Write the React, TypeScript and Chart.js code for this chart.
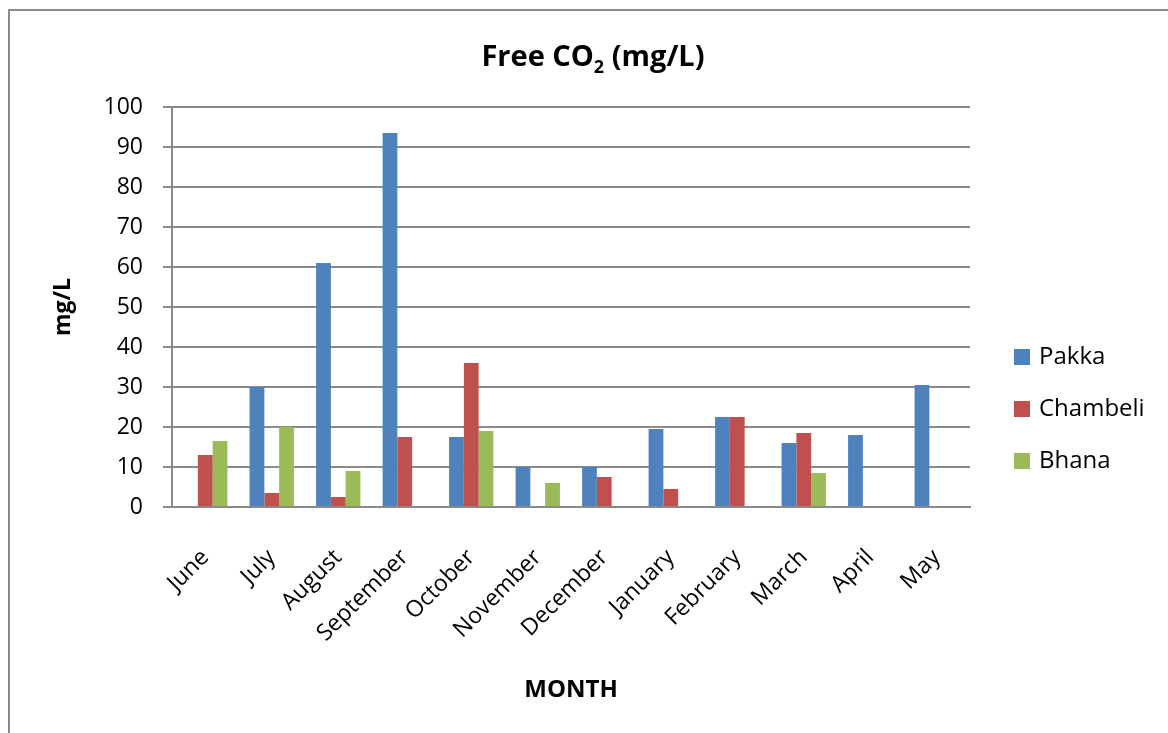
import React, { useEffect, useRef } from "react";
import { Chart, registerables } from "chart.js";

Chart.register(...registerables);

const months = ["June", "July", "August", "September", "October", "November", "December", "January", "February", "March", "April", "May"];
const pakka = [null, 30, 61, 93.5, 17.5, 10, 10, 19.5, 22.5, 16, 18, 30.5];
const chambeli = [13, 3.5, 2.5, 17.5, 36, null, 7.5, 4.5, 22.5, 18.5, null, null];
const bhana = [16.5, 20, 9, null, 19, 6, null, null, null, 8.5, null, null];
const seriesNames = ["Pakka", "Chambeli", "Bhana"];
const seriesColors = ["#4F81BD", "#C0504D", "#9BBB59"];
const yTicks = [0, 10, 20, 30, 40, 50, 60, 70, 80, 90, 100];

const FONT = "'Open Sans', 'Noto Sans', sans-serif";

const decorPlugin = {
  id: "decor",
  afterDraw(chart: any) {
    const ctx = chart.ctx;
    ctx.save();
    // outer border
    ctx.strokeStyle = "#8a8a8a";
    ctx.lineWidth = 2;
    ctx.strokeRect(9, 10, 1200, 800);

    // title with subscript
    ctx.fillStyle = "#000";
    ctx.textBaseline = "alphabetic";
    const big = `bold 29px ${FONT}`;
    const small = `bold 18px ${FONT}`;
    ctx.font = big;
    const w1 = ctx.measureText("Free CO").width;
    const w3 = ctx.measureText(" (mg/L)").width;
    ctx.font = small;
    const w2 = ctx.measureText("2").width;
    const total = w1 + w2 + w3;
    let x = 593 - total / 2;
    const by = 66;
    ctx.font = big;
    ctx.textAlign = "left";
    ctx.fillText("Free CO", x, by);
    x += w1;
    ctx.font = small;
    ctx.fillText("2", x, by + 7);
    x += w2;
    ctx.font = big;
    ctx.fillText(" (mg/L)", x, by);

    // axis titles
    ctx.font = `bold 24px ${FONT}`;
    ctx.textAlign = "center";
    ctx.textBaseline = "middle";
    ctx.fillText("MONTH", 571, 690);
    ctx.save();
    ctx.translate(63, 307);
    ctx.rotate(-Math.PI / 2);
    ctx.font = `bold 23px ${FONT}`;
    ctx.fillText("mg/L", 0, 0);
    ctx.restore();

    // legend
    ctx.font = `24px ${FONT}`;
    ctx.textAlign = "left";
    ctx.textBaseline = "middle";
    chart.data.datasets.forEach((ds: any, i: number) => {
      const cy = 357 + i * 52;
      ctx.fillStyle = ds.backgroundColor;
      ctx.fillRect(1014, cy - 8, 16, 16);
      ctx.fillStyle = "#000";
      ctx.fillText(ds.label, 1039, cy);
    });
    ctx.restore();
  },
};

export default function App() {
  const ref = useRef<HTMLCanvasElement>(null);
  useEffect(() => {
    if (!ref.current) return;
    const series = [pakka, chambeli, bhana];
    const chart = new Chart(ref.current, {
      type: "bar",
      data: {
        labels: months,
        datasets: series.map((d, i) => ({
          label: seriesNames[i],
          data: d as any,
          backgroundColor: seriesColors[i],
          borderWidth: 0,
          categoryPercentage: 3 / 4.5,
          barPercentage: 1,
        })),
      },
      options: {
        animation: false,
        responsive: false,
        maintainAspectRatio: false,
        layout: { padding: { left: 0, top: 107, right: 198, bottom: 0 } },
        plugins: { legend: { display: false }, title: { display: false }, tooltip: { enabled: false } },
        scales: {
          x: {
            grid: { display: false },
            border: { display: true, color: "#8a8a8a", width: 2 },
            ticks: {
              color: "#000",
              font: { family: FONT, size: 23 },
              minRotation: 45,
              maxRotation: 45,
              padding: 29,
              autoSkip: false,
            },
            afterFit(scale: any) {
              scale.height = 226;
            },
          },
          y: {
            min: 0,
            max: 100,
            afterBuildTicks(scale: any) {
              scale.ticks = yTicks.map((v) => ({ value: v }));
            },
            grid: { color: "#8a8a8a", lineWidth: 2, tickLength: 9 },
            border: { display: true, color: "#8a8a8a", width: 2 },
            ticks: { color: "#000", font: { family: FONT, size: 23 }, padding: 20 },
            afterFit(scale: any) {
              scale.width = 172;
            },
          },
        },
      },
      plugins: [decorPlugin],
    });
    return () => chart.destroy();
  }, []);
  return (
    <div style={{ position: "fixed", left: 0, top: 0, width: 1168, height: 733, background: "#fff" }}>
      <canvas ref={ref} width={1168} height={733} style={{ width: 1168, height: 733 }} />
    </div>
  );
}
